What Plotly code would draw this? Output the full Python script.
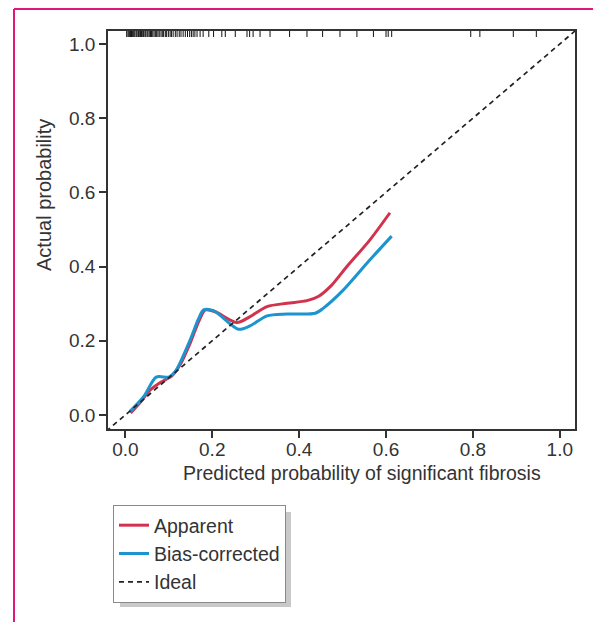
import plotly.graph_objects as go

# ---- data ----
apparent_x = [0.012, 0.035, 0.057, 0.077, 0.107, 0.126, 0.149, 0.170, 0.184, 0.207,
              0.257, 0.287, 0.326, 0.372, 0.418, 0.445, 0.475, 0.510, 0.563, 0.609]
apparent_y = [0.005, 0.035, 0.067, 0.085, 0.105, 0.135, 0.193, 0.255, 0.283, 0.278,
              0.249, 0.265, 0.292, 0.301, 0.308, 0.320, 0.350, 0.400, 0.472, 0.545]

bias_x = [0.010, 0.042, 0.071, 0.100, 0.115, 0.149, 0.168, 0.180, 0.203, 0.260,
          0.287, 0.326, 0.372, 0.437, 0.456, 0.502, 0.563, 0.613]
bias_y = [0.009, 0.049, 0.102, 0.102, 0.117, 0.202, 0.258, 0.283, 0.281, 0.231,
          0.240, 0.267, 0.272, 0.274, 0.288, 0.337, 0.418, 0.482]

ideal_x = [-0.06, 1.06]
ideal_y = [-0.06, 1.06]

rug_x = [0.003, 0.006, 0.008, 0.010, 0.012, 0.014, 0.016, 0.018, 0.020, 0.022,
         0.025, 0.027, 0.030, 0.032, 0.035, 0.037, 0.040, 0.042, 0.045, 0.047,
         0.050, 0.052, 0.055, 0.058, 0.060, 0.063, 0.066, 0.069, 0.072, 0.075,
         0.078, 0.082, 0.085, 0.088, 0.092, 0.095, 0.099, 0.103, 0.106, 0.110,
         0.115, 0.119, 0.124, 0.128, 0.133, 0.138, 0.143, 0.148, 0.152, 0.156,
         0.160, 0.165, 0.172, 0.179, 0.192, 0.203, 0.222, 0.230, 0.253, 0.280,
         0.286, 0.294, 0.310, 0.333, 0.378, 0.418, 0.454, 0.494, 0.533, 0.571,
         0.600, 0.605, 0.613, 0.795, 0.816, 0.893, 0.946]

tick_vals = [0.0, 0.2, 0.4, 0.6, 0.8, 1.0]
tick_text = ["0.0", "0.2", "0.4", "0.6", "0.8", "1.0"]

x_title = "Predicted probability of significant fibrosis"
y_title = "Actual probability"

RED = "#D3324E"
BLUE = "#1B94CF"
AX = "#333333"
FONT = "Liberation Sans, Arial, Helvetica, sans-serif"

fig = go.Figure()
fig.add_trace(go.Scatter(x=apparent_x, y=apparent_y, mode="lines", name="Apparent",
                         line=dict(color=RED, width=3, shape="spline", smoothing=0.8)))
fig.add_trace(go.Scatter(x=bias_x, y=bias_y, mode="lines", name="Bias-corrected",
                         line=dict(color=BLUE, width=3, shape="spline", smoothing=0.8)))
fig.add_trace(go.Scatter(x=ideal_x, y=ideal_y, mode="lines", name="Ideal",
                         line=dict(color="#222222", width=1.7, dash="5px,4px")))

W, H = 593, 622
L, R, T, B = 108, 18, 31, 193
pw, ph = W - L - R, H - T - B

def px2paper_x(px):
    return (px - L) / pw

def px2paper_y(py):
    return (H - B - py) / ph

shapes = []
# rug marks at top
for v in rug_x:
    shapes.append(dict(type="line", xref="x", yref="paper", x0=v, x1=v,
                       y0=1, y1=1 - 6 / ph, line=dict(color="#111111", width=1)))
# legend shadow
shapes.append(dict(type="rect", xref="paper", yref="paper",
                   x0=px2paper_x(120), x1=px2paper_x(291),
                   y0=px2paper_y(607), y1=px2paper_y(512),
                   fillcolor="#C9C9C9", line=dict(width=0), layer="below"))
# magenta page border
MAG = "#E2177A"
shapes.append(dict(type="line", xref="paper", yref="paper",
                   x0=px2paper_x(14), x1=px2paper_x(14),
                   y0=px2paper_y(9), y1=px2paper_y(640), line=dict(color=MAG, width=2)))
shapes.append(dict(type="line", xref="paper", yref="paper",
                   x0=px2paper_x(14), x1=px2paper_x(600),
                   y0=px2paper_y(9), y1=px2paper_y(9), line=dict(color=MAG, width=2)))

annotations = [
    dict(text=x_title, xref="paper", yref="paper", x=px2paper_x(362), y=px2paper_y(473),
         xanchor="center", yanchor="middle", showarrow=False,
         font=dict(family=FONT, size=19.5, color=AX)),
    dict(text=y_title, xref="paper", yref="paper", x=px2paper_x(44), y=px2paper_y(195),
         xanchor="center", yanchor="middle", showarrow=False, textangle=-90,
         font=dict(family=FONT, size=20, color=AX)),
]

axis_common = dict(
    showline=True, mirror=True, linecolor=AX, linewidth=1.5,
    ticks="outside", ticklen=7, tickwidth=1.5, tickcolor=AX,
    tickvals=tick_vals, ticktext=tick_text,
    tickfont=dict(family=FONT, size=19, color=AX),
    showgrid=False, zeroline=False,
)

fig.update_layout(
    width=W, height=H,
    margin=dict(l=L, r=R, t=T, b=B),
    paper_bgcolor="white", plot_bgcolor="white",
    font=dict(family=FONT, size=19, color=AX),
    xaxis=dict(range=[-0.04, 1.035], ticklabelstandoff=-5, **axis_common),
    yaxis=dict(range=[-0.038, 1.035], **axis_common),
    showlegend=True,
    legend=dict(x=px2paper_x(113), y=px2paper_y(505), xanchor="left", yanchor="top",
                bgcolor="white", bordercolor="#8A8A8A", borderwidth=1,
                font=dict(family=FONT, size=19.5, color=AX), itemwidth=30,
                tracegroupgap=0),
    shapes=shapes,
    annotations=annotations,
)

fig.write_html("out.html", config={"displayModeBar": False},
               post_script="document.body.style.margin='0';")
